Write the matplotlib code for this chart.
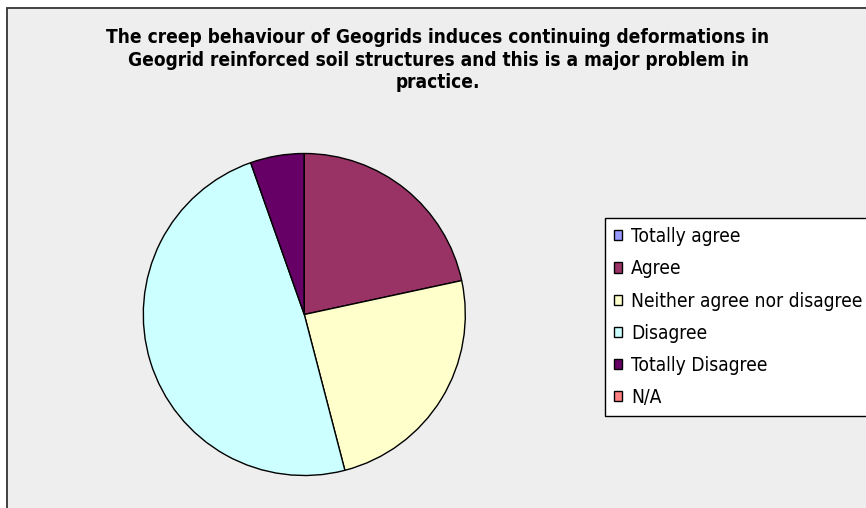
import matplotlib
matplotlib.use("Agg")
import matplotlib.pyplot as plt
from matplotlib.patches import Rectangle

categories = ["Totally agree", "Agree", "Neither agree nor disagree",
              "Disagree", "Totally Disagree", "N/A"]
counts = [0, 8, 9, 18, 2, 0]
colors = ["#9999FF", "#993366", "#FFFFCC", "#CCFFFF", "#660066", "#FF8080"]
title = ("The creep behaviour of Geogrids induces continuing deformations in\n"
         "Geogrid reinforced soil structures and this is a major problem in\n"
         "practice.")

W, H = 866, 508
fig = plt.figure(figsize=(W / 100, H / 100), dpi=100, facecolor="white")

# chart area frame
fig.patches.append(Rectangle((7.3 / W, -0.02), 1.2, (H - 8.3) / H + 0.02,
                             transform=fig.transFigure, facecolor="#EEEEEE",
                             edgecolor="#333333", linewidth=1.3, zorder=-5))

fig.text(438 / W, 1 - 28 / H, title, ha="center", va="top",
         fontsize=13.7, fontweight="bold", family="DejaVu Sans",
         fontstretch="condensed", linespacing=1.25, color="black")

cx, cy, r = 304.3, 314.5, 161
ax = fig.add_axes([(cx - r) / W, (H - cy - r) / H, 2 * r / W, 2 * r / H])
ax.set_zorder(2)
ax.set_facecolor("none")
wedges, _ = ax.pie(counts, colors=colors, startangle=90, counterclock=False,
                   radius=1.0,
                   wedgeprops=dict(edgecolor="black", linewidth=1.0))
ax.set_xlim(-1.0, 1.0)
ax.set_ylim(-1.0, 1.0)
ax.set_aspect("equal")
ax.axis("off")

fs = 13.8
leg = fig.legend(wedges, categories, loc="upper left",
                 bbox_to_anchor=(605 / W, 1 - 218.3 / H),
                 frameon=True, fancybox=False, edgecolor="black",
                 facecolor="white", framealpha=1,
                 prop=dict(family="DejaVu Sans", stretch="condensed", size=fs),
                 handlelength=0.44, handleheight=0.44, handletextpad=0.47,
                 labelspacing=0.69, borderpad=0.46, borderaxespad=0)
leg.get_frame().set_linewidth(1.0)
leg.set_zorder(3)

fig.savefig("out.png", dpi=100, facecolor="white")
